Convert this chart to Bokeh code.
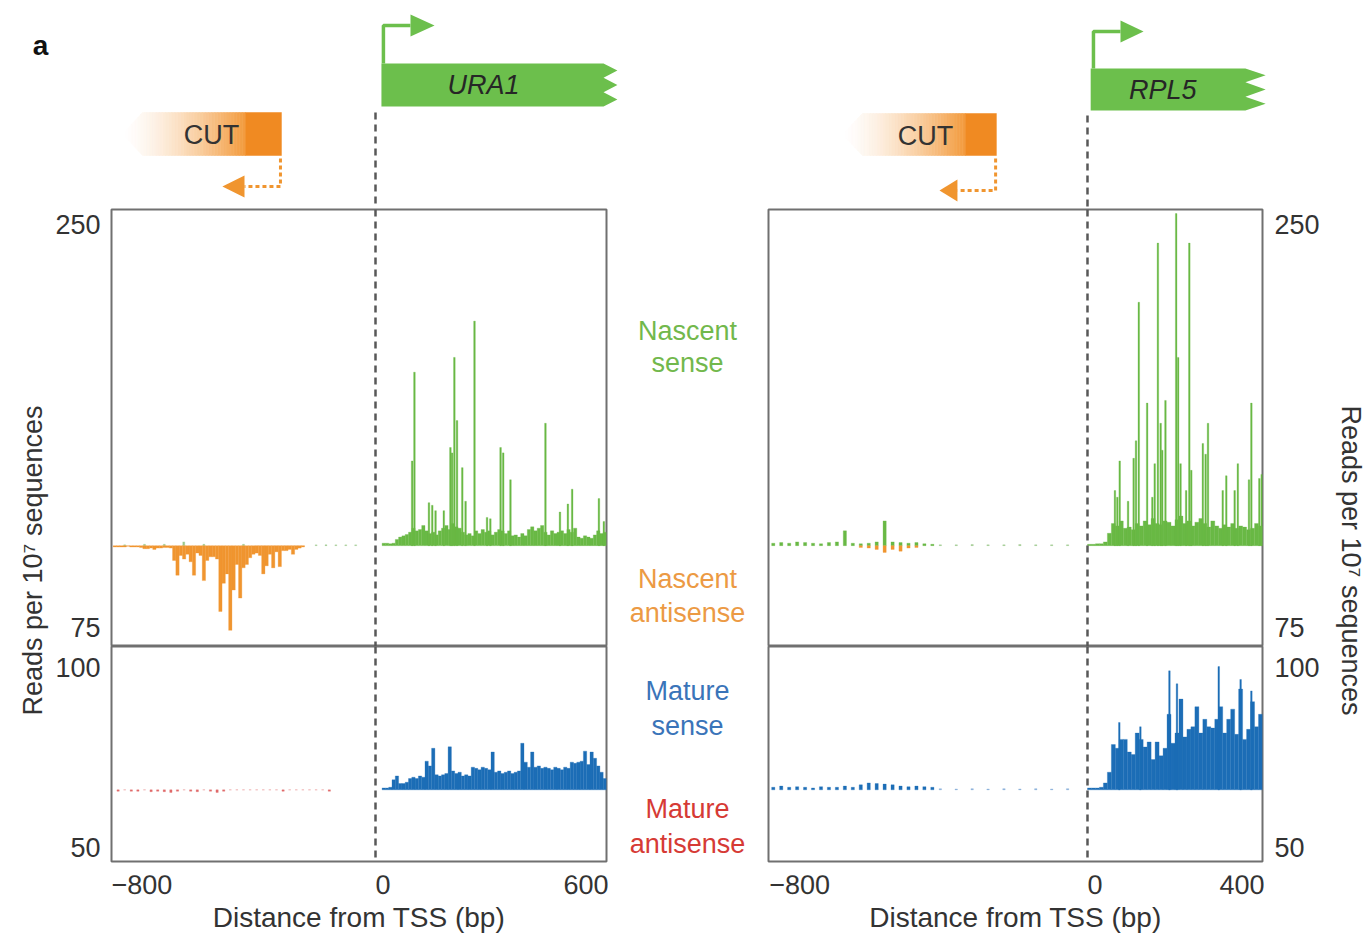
import numpy as np
from bokeh.plotting import figure
from bokeh.models import Range1d, FixedTicker, Span, Label
from bokeh.layouts import row, column
from bokeh.embed import file_html
from bokeh.resources import INLINE
from bokeh.core.properties import value

FONT = "Liberation Sans"
TXT = "#333333"
GREEN = "#69b945"
ORANGE = "#f0952f"
BLUE = "#1c6db6"
GREY = "#585858"
FRAME_C = "#707070"
GENE_GREEN = "#6cbf4c"
CUT_SOLID = "#f08a22"
CUT_GRAD = "#f39a3c"

# ---------------- data: URA1 (left panel) ----------------
ura1_centers = np.arange(25, 700, 10)
ura1_nascent_sense = [1.8, 1.8, 1.4, 1.8, 4.6, 6.4, 7.3, 8.3, 10, 13, 11, 12, 15, 11, 9, 10, 8, 11,
                      13, 15, 12, 16.5, 14, 13, 10, 8, 9, 7.3, 11, 9, 12, 10, 11, 8,
                      10, 12, 11, 9, 11, 7.3, 8, 6.4, 9, 7.3, 12, 14, 11, 13, 15,
                      10, 8, 11, 9, 10, 11, 9, 12, 10, 13, 6.4, 5.5, 7.3, 6.4, 5.5, 8, 11, 9, 10]
ura1_nascent_peak_pos = [111, 118, 162, 172, 182, 207, 227, 232, 239, 247, 263, 273, 300,
                         338, 348, 379, 387, 409, 515, 559, 583, 596, 677, 692]
ura1_nascent_peak_val = [63, 129, 32, 30, 26, 26, 73, 69, 140, 93, 58, 33, 167,
                         21, 20, 73, 69, 49, 91, 25, 31, 42, 35, 18]
ura1_antisense_centers = np.arange(-790, -215, 10)
ura1_nascent_antisense = [1, 1, 1, 1, 0.5, 1, 1, 1, 1.4, 2.3, 2.3, 1.8, 2.8, 1.8, 1.8, 1.4, 1.4, 1.8,
                          11, 22, 7.3, 10, 6.4, 12, 22, 5.5, 7.3, 26,
                          11, 8.3, 8.3, 10, 49, 28, 21, 63, 33, 14,
                          39, 16.5, 14, 9, 6.4, 5.5, 7.3, 21, 15, 6.4,
                          16.5, 4.6, 15.6, 3.7, 3.7, 2.8, 6.4, 2.8, 1.8, 1]
ura1_up_sense_pos = [-760, -700, -640, -581, -520, -400, -180, -150, -120, -90, -60]
ura1_up_sense_val = [0.6, 1, 1, 2.8, 1, 1, 0.6, 0.6, 0.6, 0.6, 0.6]
ura1_mature_sense = [1.3, 1.3, 1.8, 7, 9.7, 4.4, 4.4, 5.3,
                     7.9, 8.8, 7.9, 9.7, 8.8, 20, 16.7, 29, 10.5, 9.7,
                     10.5, 11.4, 30, 13.2, 11.4, 12.3, 9.7, 10.5, 9.7, 15.8,
                     15, 14, 15.8, 15, 14, 26.4, 12.3, 13.2, 11.4, 12.3,
                     13.2, 11.4, 12.3, 13.2, 32.5, 19.3, 15.8, 26.4, 15.8, 16.7,
                     15, 15.8, 15, 14, 15.8, 15, 14, 15.8, 15, 19.3,
                     18.5, 19.3, 20, 27, 17.6, 26.4, 22, 16.7, 12.3, 7.9]
ura1_mature_antisense_pos = np.arange(-780, -135, 20)
ura1_mature_antisense = [1, 0, 1, 1, 0, 1.3, 1, 1.3, 1.8, 1, 0, 1, 1.3, 0, 1, 1.8, 1, 0, 0,
                         0, 0, 0, 0, 0, 0, 1, 0, 0, 0, 0, 0, 0, 1]

# ---------------- data: RPL5 (right panel) ----------------
rpl5_centers = np.arange(5, 440, 10)
rpl5_nascent_sense = [1, 1, 1.4, 1.4, 2.8, 9.2, 16.5, 14.7, 18.4, 12.9,
                      13.8, 11.9, 16.5, 14.7, 18.4, 15.6, 20.2, 16.5, 15.6, 18.4,
                      17.4, 14.7, 19.3, 22, 16.5, 18.4, 14.7, 17.4, 20.2, 16.5,
                      13.8, 18.4, 14.7, 12.9, 15.6, 13.8, 16.5, 12.9, 14.7, 13.8,
                      11.9, 12.9, 16.5, 14.7]
rpl5_nascent_peak_pos = [69, 75, 81, 102, 116, 122, 129, 150, 163, 169, 177, 184, 188, 196, 223,
                         228, 234, 248, 256, 261, 290, 297, 303, 340, 349, 370, 378, 406, 412, 432, 438]
rpl5_nascent_peak_val = [41, 36, 63, 33, 65, 78, 181, 106, 36, 61, 225, 91, 71, 108, 247,
                         140, 61, 41, 225, 56, 76, 68, 91, 41, 52, 41, 61, 49, 106, 50, 53]
rpl5_up_pos = np.arange(-790, -385, 20)
rpl5_up_nascent_sense = [1.8, 2.3, 1.8, 2.8, 2.3, 1.8, 1.4, 2.3, 2.8, 11, 1.8, 1.4, 1.8, 2.8,
                         18.4, 2.8, 2.3, 1.8, 2.3, 1.4, 1]
rpl5_tail_pos = np.arange(-370, -20, 40)
rpl5_tail_nascent_sense = [0.6, 0.6, 0.8, 0.6, 0.6, 0.8, 0.6, 0.6, 0.6]
rpl5_up_antisense_pos = np.arange(-570, -425, 20)
rpl5_up_nascent_antisense = [1.4, 1.8, 2.8, 5, 2.8, 4.1, 1.8, 1.4]
rpl5_mature_sense = [1.3, 1.3, 1.3, 1.8, 4.8, 12.3, 31.6, 29, 35.2, 35.2,
                     26.4, 24.6, 39.6, 35.2, 29.9, 33.4, 21.1, 33.4, 23.7, 29,
                     52.7, 32.5, 39.6, 63.3, 36.9, 42.2, 44, 58, 39.6, 49.2,
                     44, 43.1, 49.2, 58, 39.6, 49.2, 56.3, 38.7, 70.3, 35.2,
                     42.2, 61.5, 44, 52.7]
rpl5_mature_peak_pos = [80, 133, 206, 225, 330, 385, 412]
rpl5_mature_peak_val = [47, 44, 83, 74, 86, 77, 69]
rpl5_up_mature_sense = [1.8, 2.6, 1.8, 2.2, 1.8, 1.3, 2.2, 1.8, 1.8, 2.6, 1.8, 3.5, 4.8, 4.4,
                        4, 3.5, 2.6, 2.2, 2.6, 2.2, 1.8]
rpl5_tail_mature_sense = [0.8, 0.6, 0.8, 0.6, 0.8, 0.6, 0.8, 0.6, 0.8]

# scale limits shown at the panel edges, and x ticks
nascent_limits = [250, -75]
nascent_limit_labels = ["250", "75"]
mature_limits = [100, -50]
mature_limit_labels = ["100", "50"]
ura1_xticks = [-800, 0, 600]
rpl5_xticks = [-800, 0, 400]
ura1_xlabels = ["\u2212800", "0", "600"]
rpl5_xlabels = ["\u2212800", "0", "400"]

# ---------------- layout constants ----------------
LAB_L_W = 109
L_FRAME = 495
MID_W = 158
R_FRAME = 494
LAB_R_W = 101
PAD = 2
DIAG_H = 208
NAS_TOP = 1
NAS_FRAME = 437
MAT_FRAME = 215
MAT_BOTTOM = 79
ROW_H = NAS_TOP + NAS_FRAME + MAT_FRAME + MAT_BOTTOM
ROW_Y0 = DIAG_H  # page y where the lower row starts

L_XR = (-800, 700)
R_XR = (-802, 440)
NAS_YR = (-75, 250)
MAT_YR = (-50, 100)


def base_fig(w, h, xr, yr, **kw):
    p = figure(width=w, height=h, x_range=Range1d(*xr), y_range=Range1d(*yr),
               output_backend="svg", toolbar_location=None, min_border=0, **kw)
    p.grid.visible = False
    p.outline_line_color = None
    p.background_fill_color = "white"
    p.border_fill_color = "white"
    return p


def bars(p, x, vals, width, color, sign=1):
    p.vbar(x=list(x), top=[sign * v for v in vals], bottom=0, width=width,
           fill_color=color, line_color=color, line_width=0.3)


def data_fig(kind, xr):
    if kind == "nas":
        h, yr = NAS_TOP + NAS_FRAME, NAS_YR
        kw = dict(min_border_top=NAS_TOP, x_axis_location=None)
    else:
        h, yr = MAT_FRAME + MAT_BOTTOM, MAT_YR
        kw = dict(min_border_bottom=MAT_BOTTOM, x_axis_location="below")
    w = PAD + (L_FRAME if xr == L_XR else R_FRAME) + PAD
    p = base_fig(w, h, xr, yr, y_axis_location=None, min_border_left=PAD,
                 min_border_right=PAD, **kw)
    p.outline_line_color = FRAME_C
    p.outline_line_width = 2
    if kind == "mat":
        xt = ura1_xticks if xr == L_XR else rpl5_xticks
        xl = ura1_xlabels if xr == L_XR else rpl5_xlabels
        ax = p.xaxis[0]
        ax.ticker = FixedTicker(ticks=xt)
        ax.major_label_overrides = {t: l for t, l in zip(xt, xl)}
        ax.axis_line_color = None
        ax.major_tick_line_color = None
        ax.minor_tick_line_color = None
        ax.major_tick_out = 0
        ax.major_tick_in = 0
        ax.major_label_text_font = FONT
        ax.major_label_text_font_size = "27px"
        ax.major_label_text_color = TXT
        ax.major_label_orientation = -0.001
        ax.major_label_standoff = 23
        ax.axis_label = "Distance from TSS (bp)"
        ax.axis_label_text_font = FONT
        ax.axis_label_text_font_size = "28px"
        ax.axis_label_text_font_style = "normal"
        ax.axis_label_text_color = TXT
        ax.axis_label_standoff = -5
    p.add_layout(Span(location=0, dimension="height", line_color=GREY,
                      line_width=2.5, line_dash="7 5"))
    return p


# ---------------- data figures ----------------
nasL = data_fig("nas", L_XR)
bars(nasL, ura1_centers, ura1_nascent_sense, 10, GREEN)
bars(nasL, ura1_nascent_peak_pos, ura1_nascent_peak_val, 5, GREEN)
bars(nasL, ura1_up_sense_pos, ura1_up_sense_val, 6, "#9cc98a")
bars(nasL, ura1_antisense_centers, ura1_nascent_antisense, 10, ORANGE, -1)

matL = data_fig("mat", L_XR)
bars(matL, ura1_centers, ura1_mature_sense, 10, BLUE)
bars(matL, ura1_mature_antisense_pos, ura1_mature_antisense, 7, "#e06a6a", -1)

nasR = data_fig("nas", R_XR)
bars(nasR, rpl5_centers, rpl5_nascent_sense, 10, GREEN)
bars(nasR, rpl5_nascent_peak_pos, rpl5_nascent_peak_val, 4, GREEN)
bars(nasR, rpl5_up_pos, rpl5_up_nascent_sense, 8, GREEN)
bars(nasR, rpl5_tail_pos, rpl5_tail_nascent_sense, 6, "#9cc98a")
bars(nasR, rpl5_up_antisense_pos, rpl5_up_nascent_antisense, 8, ORANGE, -1)

matR = data_fig("mat", R_XR)
bars(matR, rpl5_centers, rpl5_mature_sense, 10, BLUE)
bars(matR, rpl5_mature_peak_pos, rpl5_mature_peak_val, 4, BLUE)
bars(matR, rpl5_up_pos, rpl5_up_mature_sense, 8, BLUE)
bars(matR, rpl5_tail_pos, rpl5_tail_mature_sense, 6, "#7aa6d6")


# ---------------- gene diagrams ----------------
def mix(c1, c2, t):
    a = [int(c1[i:i + 2], 16) for i in (1, 3, 5)]
    b = [int(c2[i:i + 2], 16) for i in (1, 3, 5)]
    return "#%02x%02x%02x" % tuple(int(round(a[k] + (b[k] - a[k]) * t)) for k in range(3))


def diag_fig(width, page_x0, frame_page_x, xr, frame_w):
    scale = frame_w / (xr[1] - xr[0])
    xs = xr[0] - (frame_page_x - page_x0) / scale
    xe = xs + width / scale
    # y in diagram units: distance above the bottom of the strip (209 - page y)
    return base_fig(width, DIAG_H, (xs, xe), (209 - DIAG_H, 209),
                    x_axis_location=None, y_axis_location=None)


def gene_flag(p, start, flat, tip, top, bottom, x_tss, arrow_y, head_base, head_tip, name, name_x):
    h = top - bottom
    xs = [start, flat, tip, flat, tip, flat, tip, flat, start]
    ys = [top, top, top - 0.16 * h, top - 0.33 * h, top - 0.5 * h, top - 0.67 * h,
          top - 0.84 * h, bottom, bottom]
    p.patch(xs, ys, fill_color=GENE_GREEN, line_color=None)
    p.line([x_tss, x_tss, head_base], [top, arrow_y, arrow_y], line_color=GENE_GREEN,
           line_width=3.5)
    p.patch([head_base, head_tip, head_base], [arrow_y + 11, arrow_y, arrow_y - 11],
            fill_color=GENE_GREEN, line_color=None)
    p.add_layout(Label(x=name_x, y=(top + bottom) / 2, text=name, text_font=FONT,
                       text_font_size="27px", text_font_style="italic", text_color="#262626",
                       text_align="center", text_baseline="middle"))


def cut_arrow(p, tip, shoulder, grad_end, right, top, bottom, text_x,
              arr_x, arr_y0, arr_y1, head_base, head_tip):
    mid = (top + bottom) / 2

    def edge(x):
        f = min(1.0, max(0.0, (x - tip) / (shoulder - tip)))
        return mid + (top - mid) * f, mid - (mid - bottom) * f

    n = 40
    edges = np.linspace(tip, grad_end, n + 1)
    pxs, pys, cols = [], [], []
    for i in range(n):
        xa, xb = edges[i], edges[i + 1]
        ta, ba = edge(xa)
        tb, bb = edge(xb)
        if xa < shoulder < xb:
            px = [xa, shoulder, xb, xb, shoulder, xa]
            py = [ta, top, top, bottom, bottom, ba]
        else:
            px = [xa, xb, xb, xa]
            py = [ta, tb, bb, ba]
        pxs.append(px)
        pys.append(py)
        cols.append(mix("#ffffff", CUT_GRAD, ((i + 0.5) / n) ** 1.5))
    p.patches(pxs, pys, fill_color=cols, line_color=cols, line_width=0.6)
    p.quad(left=grad_end, right=right, top=top, bottom=bottom, fill_color=CUT_SOLID,
           line_color=CUT_SOLID, line_width=0.5)
    p.add_layout(Label(x=text_x, y=mid - 1, text="CUT", text_font=FONT, text_font_size="27px",
                       text_color="#333333", text_align="center", text_baseline="middle"))
    p.line([arr_x, arr_x, head_base], [arr_y0, arr_y1, arr_y1], line_color=ORANGE,
           line_width=3, line_dash="4 3")
    p.patch([head_base, head_tip, head_base], [arr_y1 + 11, arr_y1, arr_y1 - 11],
            fill_color=ORANGE, line_color=None)


L_FIG_W = PAD + L_FRAME + PAD
R_FIG_W = PAD + R_FRAME + PAD
TOTAL_W = LAB_L_W + L_FIG_W + MID_W + R_FIG_W + LAB_R_W
DIAG_L_W = 648
DIAG_R_W = TOTAL_W - DIAG_L_W
left_frame_x = LAB_L_W + PAD
right_frame_x = LAB_L_W + L_FIG_W + MID_W + PAD

diagL = diag_fig(DIAG_L_W, 0, left_frame_x, L_XR, L_FRAME)
cut_arrow(diagL, -767, -706, -394, -285, 97, 54, -497, -288, 51, 23, -397, -464)
gene_flag(diagL, 18, 691, 733, 146, 103, 24, 184, 106, 179, "URA1", 327)
diagL.line([0, 0], [97, 0], line_color=GREY, line_width=2.5, line_dash="7 5")
diagL.add_layout(Label(x=-1015, y=164, text="a", text_font=FONT, text_font_size="28px",
                       text_font_style="bold", text_color="#111111",
                       text_align="center", text_baseline="middle"))

diagR = diag_fig(DIAG_R_W, DIAG_L_W, right_frame_x, R_XR, R_FRAME)
cut_arrow(diagR, -616, -566, -307, -229, 96, 54, -407, -231, 51, 19, -327, -372)
gene_flag(diagR, 8, 397, 448, 141, 99, 15, 178, 83, 141, "RPL5", 189)
diagR.line([0, 0], [94, 0], line_color=GREY, line_width=2.5, line_dash="7 5")


# ---------------- side strips: axis titles and panel scale limits ----------------
def row_y(kind, v):
    """Vertical position (in the strip's bottom-up pixel units) of value v of a panel."""
    if kind == "nas":
        top, h, yr = NAS_TOP, NAS_FRAME, NAS_YR
    else:
        top, h, yr = NAS_TOP + NAS_FRAME, MAT_FRAME, MAT_YR
    from_top = top + (yr[1] - v) / (yr[1] - yr[0]) * h
    return ROW_H - from_top


# labels sit just inside the panel edge they denote (pixels toward the panel centre)
limit_inset = {"nas": [-15, 19], "mat": [-21, 14]}


def side_strip(width, side):
    p = base_fig(width, ROW_H, (0, width), (0, ROW_H), x_axis_location=None, y_axis_location=None)
    x_lab = width - 9 if side == "L" else 10
    for kind, lims, labs in (("nas", nascent_limits, nascent_limit_labels),
                             ("mat", mature_limits, mature_limit_labels)):
        for lim, lab, ins in zip(lims, labs, limit_inset[kind]):
            p.add_layout(Label(x=x_lab, y=row_y(kind, lim) + ins, text=lab, text_font=FONT,
                               text_font_size="27px", text_color=TXT,
                               text_align="right" if side == "L" else "left",
                               text_baseline="middle"))
    return p


YLAB = "Reads per 10\u2077 sequences"
labL = side_strip(LAB_L_W, "L")
labL.add_layout(Label(x=32, y=ROW_H - (560 - ROW_Y0), text=YLAB, angle=np.pi / 2, text_font=FONT,
                      text_font_size="27px", text_color=TXT, text_align="center",
                      text_baseline="middle"))
labR = side_strip(LAB_R_W, "R")
labR.add_layout(Label(x=86, y=ROW_H - (560 - ROW_Y0), text=YLAB, angle=-np.pi / 2, text_font=FONT,
                      text_font_size="27px", text_color=TXT, text_align="center",
                      text_baseline="middle"))

mid = base_fig(MID_W, ROW_H, (0, MID_W), (0, ROW_H), x_axis_location=None, y_axis_location=None)
series_names = ["Nascent", "sense", "Nascent", "antisense", "Mature", "sense", "Mature", "antisense"]
series_colors = ["#72b84c", "#72b84c", "#ec9a44", "#ec9a44", "#3a74b9", "#3a74b9", "#d63a35", "#d63a35"]
name_page_y = [330, 362, 578, 612, 690, 725, 808, 843]
mid.text(x=[79] * len(series_names), y=[ROW_H - (r - ROW_Y0) for r in name_page_y],
         text=series_names, text_color=series_colors, text_font=value(FONT),
         text_font_size=value("27px"), text_align="center", text_baseline="middle")

layout = column(
    row(diagL, diagR),
    row(labL, column(nasL, matL), mid, column(nasR, matR), labR),
)

open("out.html", "w").write(file_html(layout, INLINE))
